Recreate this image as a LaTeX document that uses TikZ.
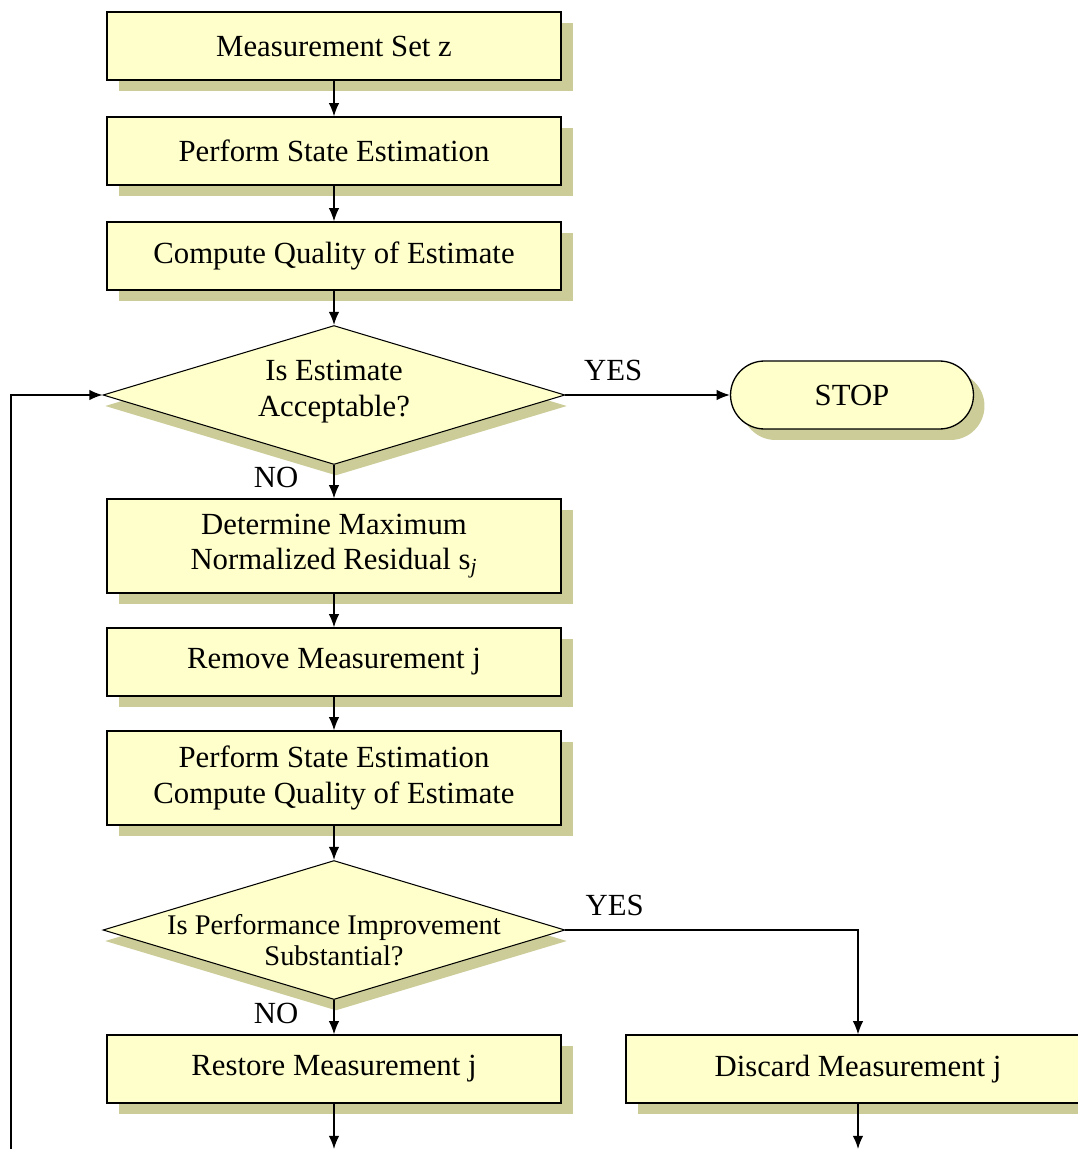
\documentclass[tikz,border=0pt]{standalone}
\usepackage{fontspec}
\setmainfont{Liberation Serif}
\usetikzlibrary{shapes.geometric, shapes.misc, shadows, arrows.meta}
\definecolor{boxyellow}{RGB}{255, 255, 204}
\definecolor{boxshadow}{RGB}{204, 204, 153}
\tikzset{>={Latex[length=7.5pt, width=6pt]}}
\tikzset{
  stepbox/.style = {draw, line width = 0.75pt, fill = boxyellow, minimum width = 9.08cm,
    minimum height = 1.36cm, inner sep = 0pt, align = center,
    drop shadow = {shadow xshift = 0.24cm, shadow yshift = -0.22cm, fill = boxshadow, opacity = 1},
    font = \fontsize{17.5}{20}\selectfont},
  tallbox/.style = {stepbox, minimum height = 1.88cm},
  decision/.style = {diamond, draw, line width = 0.6pt, fill = boxyellow, minimum width = 9.24cm,
    minimum height = 2.78cm, inner sep = 0pt,
    drop shadow = {shadow xshift = 0.04cm, shadow yshift = -0.22cm, fill = boxshadow, opacity = 1}},
  stopbox/.style = {rounded rectangle, draw, line width = 0.75pt, fill = boxyellow,
    minimum width = 4.86cm, minimum height = 1.36cm, inner sep = 0pt,
    drop shadow = {shadow xshift = 0.22cm, shadow yshift = -0.22cm, fill = boxshadow, opacity = 1},
    font = \fontsize{17.5}{20}\selectfont},
  asktext/.style = {align = center, font = \fontsize{17.5}{20.5}\selectfont},
  answer/.style = {font = \fontsize{17.5}{20}\selectfont},
  flow/.style = {->, line width = 0.85pt}
}

\begin{document}
\begin{tikzpicture}[x = 0.02cm, y = -0.02cm]

\useasboundingbox (0,0) rectangle (1078,1149);
\clip (0,0) rectangle (1078,1149);

% main column
\node[stepbox] (meas) at (334, 46) {Measurement Set z};
\node[stepbox] (est) at (334, 151) {Perform State Estimation};
\node[stepbox] (qual) at (334, 256) {Compute Quality of Estimate};
\node[decision] (accept) at (334, 395) {};
\node[asktext, yshift = 0.06cm] (accepttext) at (accept) {Is Estimate\\Acceptable?};
\node[stopbox] (stop) at (852, 395) {STOP};
\node[tallbox] (maxres) at (334, 546) {Determine Maximum\\Normalized Residual s\textsubscript{\itshape j}};
\node[stepbox] (remove) at (334, 662) {Remove Measurement j};
\node[tallbox] (reest) at (334, 778) {Perform State Estimation\\Compute Quality of Estimate};
\node[decision] (improve) at (334, 930) {};
\node[asktext, font = \fontsize{16.2}{18}\selectfont, yshift = -0.2cm] (improvetext) at (improve) {Is Performance Improvement\\Substantial?};
\node[stepbox] (restore) at (334, 1069) {Restore Measurement j};
\node[stepbox, minimum width = 9.28cm] (discard) at (858, 1069) {Discard Measurement j};

% loose ends at the bottom edge
\coordinate (restoreout) at (334, 1149);
\coordinate (discardout) at (858, 1149);
\coordinate (loopin) at (11, 1149);

% connectors
\draw[flow] (meas) -- (est);
\draw[flow] (est) -- (qual);
\draw[flow] (qual) -- (accept);
\draw[flow] (accept.east) -- node[answer, pos = 0.29, yshift = 0.5cm] (yes1) {YES} (stop.west);
\draw[flow] (accept.south) -- node[answer, pos = 0.37, xshift = -1.16cm] (no1) {NO} (maxres.north);
\draw[flow] (maxres) -- (remove);
\draw[flow] (remove) -- (reest);
\draw[flow] (reest) -- (improve);
\draw[flow] (improve.east) -| node[answer, pos = 0.084, yshift = 0.5cm] (yes2) {YES} (discard.north);
\draw[flow] (improve.south) -- node[answer, pos = 0.4, xshift = -1.16cm] (no2) {NO} (restore.north);
\draw[flow] (restore.south) -- (restoreout);
\draw[flow] (discard.south) -- (discardout);
\draw[flow] (loopin) |- (accept.west);

\end{tikzpicture}
\end{document}
